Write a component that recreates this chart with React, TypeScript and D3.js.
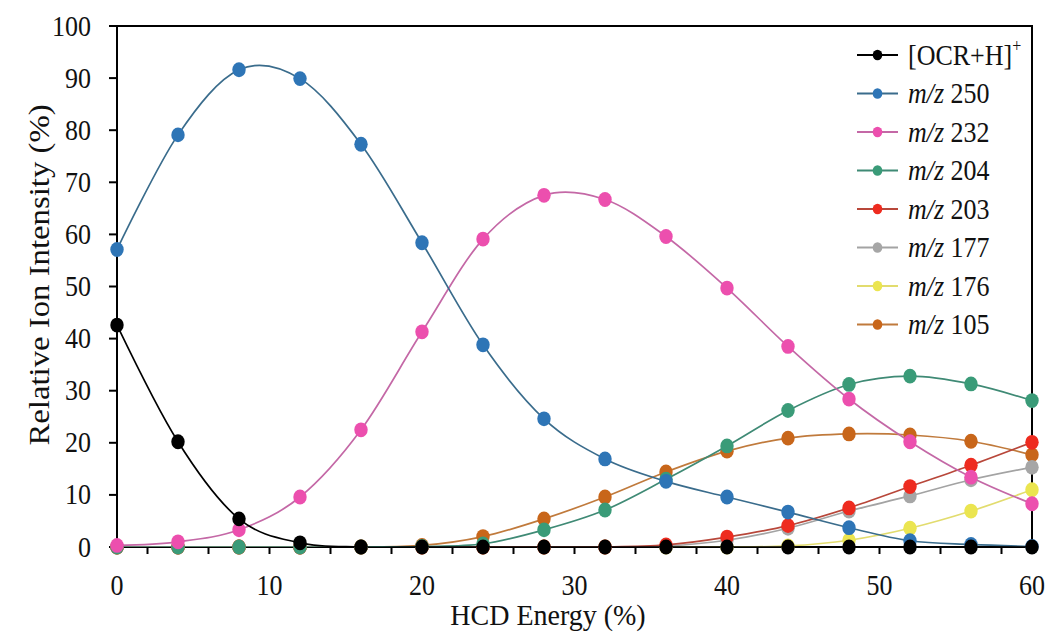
import React from "react";
import * as d3 from "d3";

const energy = [0, 4, 8, 12, 16, 20, 24, 28, 32, 36, 40, 44, 48, 52, 56, 60];
const ocrH = [42.6, 20.2, 5.4, 0.8, 0, 0, 0, 0, 0, 0, 0, 0, 0, 0, 0, 0];
const mz250 = [57.1, 79.1, 91.6, 89.9, 77.3, 58.4, 38.8, 24.6, 16.9, 12.6, 9.6, 6.7, 3.7, 1.2, 0.5, 0.1];
const mz232 = [0.3, 1.0, 3.3, 9.6, 22.5, 41.3, 59.1, 67.5, 66.7, 59.6, 49.7, 38.5, 28.4, 20.2, 13.4, 8.3];
const mz204 = [0, 0, 0, 0, 0, 0.1, 0.6, 3.3, 7.1, 13.0, 19.4, 26.2, 31.2, 32.8, 31.3, 28.1];
const mz203 = [0, 0, 0, 0, 0, 0, 0, 0, 0, 0.4, 1.9, 4.1, 7.5, 11.6, 15.7, 20.1];
const mz177 = [0, 0, 0, 0, 0, 0, 0, 0, 0, 0.2, 1.3, 3.6, 6.9, 9.8, 12.9, 15.3];
const mz176 = [0, 0, 0, 0, 0, 0, 0, 0, 0, 0, 0, 0.2, 1.3, 3.6, 6.9, 11.0];
const mz105 = [0, 0, 0, 0, 0, 0.3, 2.0, 5.4, 9.6, 14.4, 18.4, 20.9, 21.7, 21.5, 20.3, 17.7];

const seriesNames = ["[OCR+H]+", "m/z 250", "m/z 232", "m/z 204", "m/z 203", "m/z 177", "m/z 176", "m/z 105"];
const seriesValues = [ocrH, mz250, mz232, mz204, mz203, mz177, mz176, mz105];
const markerColors = ["#000000", "#2e75b6", "#ec4fae", "#3a9b78", "#ee2b1f", "#a6a6a6", "#ebe550", "#c8661a"];
const lineColors = ["#000000", "#3a6c8c", "#c468a6", "#3f8a75", "#b8473a", "#a3a3a3", "#e2dc6e", "#c07a3c"];

const yTicks = [0, 10, 20, 30, 40, 50, 60, 70, 80, 90, 100];
const xTickLabels = [0, 10, 20, 30, 40, 50, 60];
const xTickMarks = [2, 6, 10, 14, 18, 22, 26, 30, 34, 38, 42, 46, 50, 54, 58];

const W = 1046;
const H = 632;
const FONT = "'Liberation Serif', 'Times New Roman', Times, serif";
const SY = 1.13;

export default function App() {
  const x = d3.scaleLinear().domain([0, 60]).range([117, 1032]);
  const y = d3.scaleLinear().domain([0, 100]).range([547, 26]);
  const line = d3
    .line<number>()
    .x((_, i) => x(energy[i]))
    .y((d) => y(d))
    .curve(d3.curveCardinal.tension(0));

  const order = seriesValues.map((_, i) => i).reverse();
  const legendY0 = 55;
  const legendDy = 38.5;

  return (
    <svg
      width={W}
      height={H}
      style={{ position: "absolute", left: 0, top: 0, background: "#fff" }}
      fontFamily={FONT}
    >
      <defs>
        <clipPath id="plotclip">
          <rect x={x(0)} y={y(100)} width={x(60) - x(0)} height={y(0) - y(100)} />
        </clipPath>
      </defs>
      <rect x={0} y={0} width={W} height={H} fill="#fff" />

      {/* frame */}
      <rect
        x={x(0)}
        y={y(100)}
        width={x(60) - x(0)}
        height={y(0) - y(100)}
        fill="none"
        stroke="#000"
        strokeWidth={2}
      />

      {/* y ticks */}
      {yTicks.map((t) => (
        <g key={"yt" + t}>
          <line x1={x(0) - 8} x2={x(0)} y1={y(t)} y2={y(t)} stroke="#000" strokeWidth={2} />
          <text
            transform={`translate(91,${y(t) + 9.5}) scale(1,${SY})`}
            textAnchor="end"
            fontSize={26}
            fill="#111"
          >
            {t}
          </text>
        </g>
      ))}

      {/* x ticks */}
      {xTickMarks.map((t) => (
        <line key={"xm" + t} x1={x(t)} x2={x(t)} y1={y(0)} y2={y(0) + 7} stroke="#000" strokeWidth={2} />
      ))}
      {xTickLabels.map((t) => (
        <text
          key={"xl" + t}
          transform={`translate(${x(t)},595) scale(1,1.1)`}
          textAnchor="middle"
          fontSize={26}
          fill="#111"
        >
          {t}
        </text>
      ))}

      {/* axis titles */}
      <text
        transform={`translate(548,625) scale(1,1.04)`}
        textAnchor="middle"
        fontSize={28}
        fill="#111"
      >
        HCD Energy (%)
      </text>
      <text
        transform={`translate(49,275) rotate(-90) scale(${SY},1)`}
        textAnchor="middle"
        fontSize={29}
        fill="#111"
      >
        Relative Ion Intensity (%)
      </text>

      {/* series */}
      {order.map((si) => (
        <g key={"s" + si}>
          <path
            d={line(seriesValues[si]) || ""}
            fill="none"
            stroke={lineColors[si]}
            strokeWidth={1.7}
            clipPath="url(#plotclip)"
          />
          {seriesValues[si].map((v, i) => (
            <ellipse
              key={i}
              cx={x(energy[i])}
              cy={y(v)}
              rx={6.7}
              ry={7.4}
              fill={markerColors[si]}
            />
          ))}
        </g>
      ))}

      {/* legend */}
      {seriesNames.map((name, i) => {
        const ly = legendY0 + i * legendDy;
        return (
          <g key={"lg" + i}>
            <line x1={857} x2={898} y1={ly} y2={ly} stroke={lineColors[i]} strokeWidth={2} />
            <ellipse cx={877.5} cy={ly} rx={4.8} ry={5.3} fill={markerColors[i]} />
            <text
              transform={`translate(908,${ly + 9.5}) scale(1,${SY})`}
              fontSize={26}
              fill="#111"
            >
              {i === 0 ? (
                <>
                  <tspan>[OCR+H]</tspan>
                  <tspan fontSize={16} dy={-11}>+</tspan>
                </>
              ) : (
                <>
                  <tspan fontStyle="italic">m/z</tspan>
                  <tspan>{" " + name.replace("m/z ", "")}</tspan>
                </>
              )}
            </text>
          </g>
        );
      })}
    </svg>
  );
}
